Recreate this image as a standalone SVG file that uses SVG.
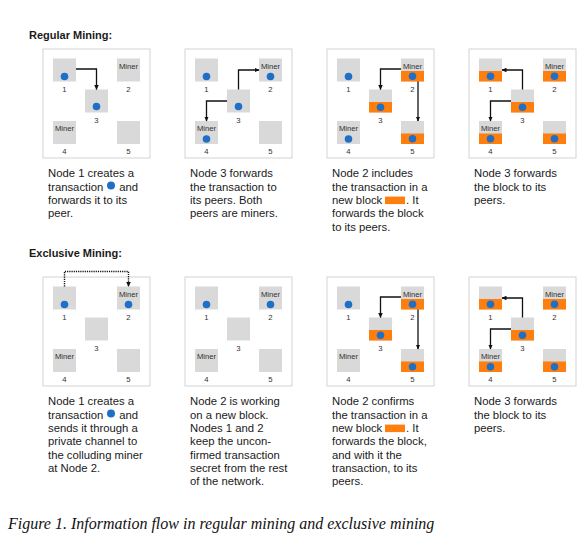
<svg xmlns="http://www.w3.org/2000/svg" width="585" height="546" viewBox="0 0 585 546">
<defs>
<style>
.bg{fill:#ffffff}
.frame{fill:#ffffff;stroke:#c9c9c9;stroke-width:0.8}
.nd{fill:#d9d9d9}
.blk{fill:#ff7f0e}
.dot{fill:#1f6fc6}
.mn{font-family:"Liberation Sans",Arial,sans-serif;font-size:7.7px;fill:#333333;text-anchor:middle}
.num{font-family:"Liberation Sans",Arial,sans-serif;font-size:7.7px;fill:#333333;text-anchor:middle}
.cap{font-family:"Liberation Sans",Arial,sans-serif;font-size:11.3px;fill:#1a1a1a}
.hd{font-family:"Liberation Sans",Arial,sans-serif;font-size:11px;font-weight:bold;fill:#1a1a1a}
.fig{font-family:"Liberation Serif","Times New Roman",serif;font-size:16px;font-style:italic;fill:#111111}
.ar{fill:none;stroke:#111111;stroke-width:1.3;marker-end:url(#ah)}
.ard{fill:none;stroke:#111111;stroke-width:1.4;stroke-dasharray:1.2,1;marker-end:url(#ah)}
</style>
<marker id="ah" viewBox="0 0 10 10" refX="9" refY="5" markerWidth="5" markerHeight="5" markerUnits="userSpaceOnUse" orient="auto">
<path d="M0,0.5 L10,5 L0,9.5 z" fill="#111111"/>
</marker>
</defs>
<rect class="bg" x="0" y="0" width="585" height="546"/>

<text class="hd" x="29" y="39">Regular Mining:</text>
<text class="hd" x="29" y="257">Exclusive Mining:</text>

<!-- Row 1 Panel 1 -->
<g id="r1p1" transform="translate(43,49)">
<rect class="frame" x="0" y="0" width="107" height="109"/>
<g id="r1p1-n1" transform="translate(10,9.5)"><rect class="nd" width="23" height="23"/><circle class="dot" cx="11.5" cy="18" r="3.8"/><text class="num" x="11.5" y="33">1</text></g>
<g id="r1p1-n2" transform="translate(74,9.5)"><rect class="nd" width="23" height="23"/><text class="mn" x="11.5" y="10">Miner</text><text class="num" x="11.5" y="33">2</text></g>
<g id="r1p1-n3" transform="translate(42,40.5)"><rect class="nd" width="23" height="23"/><circle class="dot" cx="11.5" cy="17" r="3.8"/><text class="num" x="11.5" y="33">3</text></g>
<g id="r1p1-n4" transform="translate(10,72)"><rect class="nd" width="23" height="23"/><text class="mn" x="11.5" y="10">Miner</text><text class="num" x="11.5" y="33">4</text></g>
<g id="r1p1-n5" transform="translate(74,72)"><rect class="nd" width="23" height="23"/><text class="num" x="11.5" y="33">5</text></g>
<text class="cap" x="5" y="128.3">Node 1 creates a</text>
<text class="cap" x="5" y="141.6">transaction</text><circle class="dot" cx="68" cy="136.6" r="4"/><text class="cap" x="76.3" y="141.6">and</text>
<text class="cap" x="5" y="154.9">forwards it to its</text>
<text class="cap" x="5" y="168.2">peer.</text>
</g>

<!-- Row 1 Panel 2 -->
<g id="r1p2" transform="translate(185,49)">
<rect class="frame" x="0" y="0" width="107" height="109"/>
<g id="r1p2-n1" transform="translate(10,9.5)"><rect class="nd" width="23" height="23"/><circle class="dot" cx="11.5" cy="18" r="3.8"/><text class="num" x="11.5" y="33">1</text></g>
<g id="r1p2-n2" transform="translate(74,9.5)"><rect class="nd" width="23" height="23"/><text class="mn" x="11.5" y="10">Miner</text><circle class="dot" cx="11.5" cy="18" r="3.8"/><text class="num" x="11.5" y="33">2</text></g>
<g id="r1p2-n3" transform="translate(42,40.5)"><rect class="nd" width="23" height="23"/><circle class="dot" cx="11.5" cy="17" r="3.8"/><text class="num" x="11.5" y="33">3</text></g>
<g id="r1p2-n4" transform="translate(10,72)"><rect class="nd" width="23" height="23"/><text class="mn" x="11.5" y="10">Miner</text><circle class="dot" cx="11.5" cy="18" r="3.8"/><text class="num" x="11.5" y="33">4</text></g>
<g id="r1p2-n5" transform="translate(74,72)"><rect class="nd" width="23" height="23"/><text class="num" x="11.5" y="33">5</text></g>
<text class="cap" x="5" y="128.3">Node 3 forwards</text>
<text class="cap" x="5" y="141.6">the transaction to</text>
<text class="cap" x="5" y="154.9">its peers. Both</text>
<text class="cap" x="5" y="168.2">peers are miners.</text>
</g>

<!-- Row 1 Panel 3 -->
<g id="r1p3" transform="translate(327,49)">
<rect class="frame" x="0" y="0" width="107" height="109"/>
<g id="r1p3-n1" transform="translate(10,9.5)"><rect class="nd" width="23" height="23"/><circle class="dot" cx="11.5" cy="18" r="3.8"/><text class="num" x="11.5" y="33">1</text></g>
<g id="r1p3-n2" transform="translate(74,9.5)"><rect class="nd" width="23" height="23"/><text class="mn" x="11.5" y="10">Miner</text><rect class="blk" x="0" y="12.5" width="23" height="10.5"/><circle class="dot" cx="11.5" cy="17.75" r="3.8"/><text class="num" x="11.5" y="33">2</text></g>
<g id="r1p3-n3" transform="translate(42,40.5)"><rect class="nd" width="23" height="23"/><rect class="blk" x="0" y="12.5" width="23" height="10.5"/><circle class="dot" cx="11.5" cy="17.75" r="3.8"/><text class="num" x="11.5" y="33">3</text></g>
<g id="r1p3-n4" transform="translate(10,72)"><rect class="nd" width="23" height="23"/><text class="mn" x="11.5" y="10">Miner</text><circle class="dot" cx="11.5" cy="18" r="3.8"/><text class="num" x="11.5" y="33">4</text></g>
<g id="r1p3-n5" transform="translate(74,72)"><rect class="nd" width="23" height="23"/><rect class="blk" x="0" y="12.5" width="23" height="10.5"/><circle class="dot" cx="11.5" cy="17.75" r="3.8"/><text class="num" x="11.5" y="33">5</text></g>
<text class="cap" x="5" y="128.3">Node 2 includes</text>
<text class="cap" x="5" y="141.6">the transaction in a</text>
<text class="cap" x="5" y="154.9">new block</text><rect class="blk" x="58" y="147.6" width="20" height="7.5"/><text class="cap" x="79" y="154.9">. It</text>
<text class="cap" x="5" y="168.2">forwards the block</text>
<text class="cap" x="5" y="181.5">to its peers.</text>
</g>

<!-- Row 1 Panel 4 -->
<g id="r1p4" transform="translate(469,49)">
<rect class="frame" x="0" y="0" width="107" height="109"/>
<g id="r1p4-n1" transform="translate(10,9.5)"><rect class="nd" width="23" height="23"/><rect class="blk" x="0" y="12.5" width="23" height="10.5"/><circle class="dot" cx="11.5" cy="17.75" r="3.8"/><text class="num" x="11.5" y="33">1</text></g>
<g id="r1p4-n2" transform="translate(74,9.5)"><rect class="nd" width="23" height="23"/><text class="mn" x="11.5" y="10">Miner</text><rect class="blk" x="0" y="12.5" width="23" height="10.5"/><circle class="dot" cx="11.5" cy="17.75" r="3.8"/><text class="num" x="11.5" y="33">2</text></g>
<g id="r1p4-n3" transform="translate(42,40.5)"><rect class="nd" width="23" height="23"/><rect class="blk" x="0" y="12.5" width="23" height="10.5"/><circle class="dot" cx="11.5" cy="17.75" r="3.8"/><text class="num" x="11.5" y="33">3</text></g>
<g id="r1p4-n4" transform="translate(10,72)"><rect class="nd" width="23" height="23"/><text class="mn" x="11.5" y="10">Miner</text><rect class="blk" x="0" y="12.5" width="23" height="10.5"/><circle class="dot" cx="11.5" cy="17.75" r="3.8"/><text class="num" x="11.5" y="33">4</text></g>
<g id="r1p4-n5" transform="translate(74,72)"><rect class="nd" width="23" height="23"/><rect class="blk" x="0" y="12.5" width="23" height="10.5"/><circle class="dot" cx="11.5" cy="17.75" r="3.8"/><text class="num" x="11.5" y="33">5</text></g>
<text class="cap" x="5" y="128.3">Node 3 forwards</text>
<text class="cap" x="5" y="141.6">the block to its</text>
<text class="cap" x="5" y="154.9">peers.</text>
</g>

<!-- Row 2 Panel 1 -->
<g id="r2p1" transform="translate(43,277)">
<rect class="frame" x="0" y="0" width="107" height="109"/>
<g id="r2p1-n1" transform="translate(10,9.5)"><rect class="nd" width="23" height="23"/><circle class="dot" cx="11.5" cy="18" r="3.8"/><text class="num" x="11.5" y="33">1</text></g>
<g id="r2p1-n2" transform="translate(74,9.5)"><rect class="nd" width="23" height="23"/><text class="mn" x="11.5" y="10">Miner</text><circle class="dot" cx="11.5" cy="18" r="3.8"/><text class="num" x="11.5" y="33">2</text></g>
<g id="r2p1-n3" transform="translate(42,40.5)"><rect class="nd" width="23" height="23"/><text class="num" x="11.5" y="33">3</text></g>
<g id="r2p1-n4" transform="translate(10,72)"><rect class="nd" width="23" height="23"/><text class="mn" x="11.5" y="10">Miner</text><text class="num" x="11.5" y="33">4</text></g>
<g id="r2p1-n5" transform="translate(74,72)"><rect class="nd" width="23" height="23"/><text class="num" x="11.5" y="33">5</text></g>
<text class="cap" x="5" y="128.3">Node 1 creates a</text>
<text class="cap" x="5" y="141.6">transaction</text><circle class="dot" cx="68" cy="136.6" r="4"/><text class="cap" x="76.3" y="141.6">and</text>
<text class="cap" x="5" y="154.9">sends it through a</text>
<text class="cap" x="5" y="168.2">private channel to</text>
<text class="cap" x="5" y="181.5">the colluding miner</text>
<text class="cap" x="5" y="194.8">at Node 2.</text>
</g>

<!-- Row 2 Panel 2 -->
<g id="r2p2" transform="translate(185,277)">
<rect class="frame" x="0" y="0" width="107" height="109"/>
<g id="r2p2-n1" transform="translate(10,9.5)"><rect class="nd" width="23" height="23"/><circle class="dot" cx="11.5" cy="18" r="3.8"/><text class="num" x="11.5" y="33">1</text></g>
<g id="r2p2-n2" transform="translate(74,9.5)"><rect class="nd" width="23" height="23"/><text class="mn" x="11.5" y="10">Miner</text><circle class="dot" cx="11.5" cy="18" r="3.8"/><text class="num" x="11.5" y="33">2</text></g>
<g id="r2p2-n3" transform="translate(42,40.5)"><rect class="nd" width="23" height="23"/><text class="num" x="11.5" y="33">3</text></g>
<g id="r2p2-n4" transform="translate(10,72)"><rect class="nd" width="23" height="23"/><text class="mn" x="11.5" y="10">Miner</text><text class="num" x="11.5" y="33">4</text></g>
<g id="r2p2-n5" transform="translate(74,72)"><rect class="nd" width="23" height="23"/><text class="num" x="11.5" y="33">5</text></g>
<text class="cap" x="5" y="128.3">Node 2 is working</text>
<text class="cap" x="5" y="141.6">on a new block.</text>
<text class="cap" x="5" y="154.9">Nodes 1 and 2</text>
<text class="cap" x="5" y="168.2">keep the uncon-</text>
<text class="cap" x="5" y="181.5">firmed transaction</text>
<text class="cap" x="5" y="194.8">secret from the rest</text>
<text class="cap" x="5" y="208.1">of the network.</text>
</g>

<!-- Row 2 Panel 3 -->
<g id="r2p3" transform="translate(327,277)">
<rect class="frame" x="0" y="0" width="107" height="109"/>
<g id="r2p3-n1" transform="translate(10,9.5)"><rect class="nd" width="23" height="23"/><circle class="dot" cx="11.5" cy="18" r="3.8"/><text class="num" x="11.5" y="33">1</text></g>
<g id="r2p3-n2" transform="translate(74,9.5)"><rect class="nd" width="23" height="23"/><text class="mn" x="11.5" y="10">Miner</text><rect class="blk" x="0" y="12.5" width="23" height="10.5"/><circle class="dot" cx="11.5" cy="17.75" r="3.8"/><text class="num" x="11.5" y="33">2</text></g>
<g id="r2p3-n3" transform="translate(42,40.5)"><rect class="nd" width="23" height="23"/><rect class="blk" x="0" y="12.5" width="23" height="10.5"/><circle class="dot" cx="11.5" cy="17.75" r="3.8"/><text class="num" x="11.5" y="33">3</text></g>
<g id="r2p3-n4" transform="translate(10,72)"><rect class="nd" width="23" height="23"/><text class="mn" x="11.5" y="10">Miner</text><text class="num" x="11.5" y="33">4</text></g>
<g id="r2p3-n5" transform="translate(74,72)"><rect class="nd" width="23" height="23"/><rect class="blk" x="0" y="12.5" width="23" height="10.5"/><circle class="dot" cx="11.5" cy="17.75" r="3.8"/><text class="num" x="11.5" y="33">5</text></g>
<text class="cap" x="5" y="128.3">Node 2 confirms</text>
<text class="cap" x="5" y="141.6">the transaction in a</text>
<text class="cap" x="5" y="154.9">new block</text><rect class="blk" x="58" y="147.6" width="20" height="7.5"/><text class="cap" x="79" y="154.9">. It</text>
<text class="cap" x="5" y="168.2">forwards the block,</text>
<text class="cap" x="5" y="181.5">and with it the</text>
<text class="cap" x="5" y="194.8">transaction, to its</text>
<text class="cap" x="5" y="208.1">peers.</text>
</g>

<!-- Row 2 Panel 4 -->
<g id="r2p4" transform="translate(469,277)">
<rect class="frame" x="0" y="0" width="107" height="109"/>
<g id="r2p4-n1" transform="translate(10,9.5)"><rect class="nd" width="23" height="23"/><rect class="blk" x="0" y="12.5" width="23" height="10.5"/><circle class="dot" cx="11.5" cy="17.75" r="3.8"/><text class="num" x="11.5" y="33">1</text></g>
<g id="r2p4-n2" transform="translate(74,9.5)"><rect class="nd" width="23" height="23"/><text class="mn" x="11.5" y="10">Miner</text><rect class="blk" x="0" y="12.5" width="23" height="10.5"/><circle class="dot" cx="11.5" cy="17.75" r="3.8"/><text class="num" x="11.5" y="33">2</text></g>
<g id="r2p4-n3" transform="translate(42,40.5)"><rect class="nd" width="23" height="23"/><rect class="blk" x="0" y="12.5" width="23" height="10.5"/><circle class="dot" cx="11.5" cy="17.75" r="3.8"/><text class="num" x="11.5" y="33">3</text></g>
<g id="r2p4-n4" transform="translate(10,72)"><rect class="nd" width="23" height="23"/><text class="mn" x="11.5" y="10">Miner</text><rect class="blk" x="0" y="12.5" width="23" height="10.5"/><circle class="dot" cx="11.5" cy="17.75" r="3.8"/><text class="num" x="11.5" y="33">4</text></g>
<g id="r2p4-n5" transform="translate(74,72)"><rect class="nd" width="23" height="23"/><rect class="blk" x="0" y="12.5" width="23" height="10.5"/><circle class="dot" cx="11.5" cy="17.75" r="3.8"/><text class="num" x="11.5" y="33">5</text></g>
<text class="cap" x="5" y="128.3">Node 3 forwards</text>
<text class="cap" x="5" y="141.6">the block to its</text>
<text class="cap" x="5" y="154.9">peers.</text>
</g>

<g id="connectors">
<path class="ar" d="M76,69 H96.5 V89.5"/>
<path class="ar" d="M238.5,89.5 V70 H259"/>
<path class="ar" d="M227,101 H206.5 V121"/>
<path class="ar" d="M401,69 H380.5 V89.5"/>
<path class="ar" d="M418,81.5 V121"/>
<path class="ar" d="M522.5,89.5 V70 H502"/>
<path class="ar" d="M511,101 H490.5 V121"/>
<path class="ard" d="M64.5,286.5 V271.5 H128.5 V286.5"/>
<path class="ar" d="M401,297 H380.5 V317.5"/>
<path class="ar" d="M418,309.5 V349"/>
<path class="ar" d="M522.5,317.5 V298 H502"/>
<path class="ar" d="M511,329 H490.5 V349"/>
</g>

<text class="fig" x="8" y="529">Figure 1. Information flow in regular mining and exclusive mining</text>
</svg>
